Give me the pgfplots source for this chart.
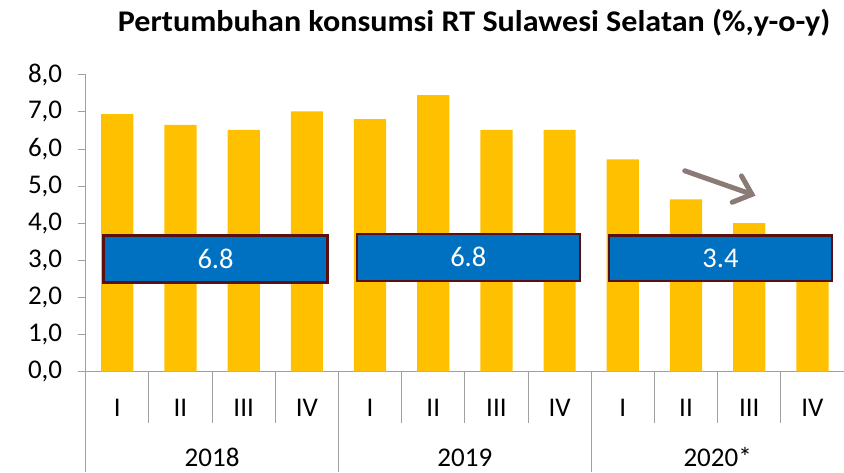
\documentclass[border=0pt]{standalone}
\usepackage{pgfplots}
\pgfplotsset{compat=1.18}
\usepackage{fontspec}
\setmainfont{Carlito}
\usetikzlibrary{arrows.meta}
\definecolor{barc}{HTML}{FFC000}
\definecolor{boxc}{HTML}{0070C0}
\definecolor{boxb}{HTML}{5A1010}
\definecolor{arrc}{HTML}{8B7B76}
\definecolor{axc}{HTML}{A0A0A0}
\begin{document}
\begin{tikzpicture}[x=1pt,y=1pt]
\path[use as bounding box] (0,0) rectangle (844,472);
\node[anchor=base,font=\fontsize{30}{34}\selectfont\bfseries] at (474,440) {\scalebox{1.07}[1]{Pertumbuhan konsumsi RT Sulawesi Selatan (\%,y-o-y)}};
\begin{axis}[
  at={(85.7pt,100.5pt)}, anchor=south west,
  width=758.3pt, height=296.8pt, scale only axis,
  xmin=-0.5, xmax=11.5, ymin=0, ymax=8,
  axis lines=left,
  axis line style={axc,-},
  xtick=\empty,
  ytick={0,1,...,8},
  tick align=outside,
  major tick length=8pt,
  tick style={axc, line width=0.8pt},
  yticklabel style={font=\fontsize{27}{30}\selectfont, xshift=-12pt},
  /pgf/number format/.cd, fixed, fixed zerofill, precision=1, use comma, assume math mode=true,
  /pgfplots/.cd,
  clip=false,
  ybar, bar width=32.2pt,
]
\addplot[fill=barc, draw=none] coordinates {
 (0,6.94) (1,6.65) (2,6.51) (3,7.01)
 (4,6.80) (5,7.45) (6,6.51) (7,6.51)
 (8,5.72) (9,4.64) (10,4.00) (11,3.00)};
% separators
\draw[axc, line width=0.8pt] (axis cs:-0.5,0) -- (axis cs:-0.5,-2.71);
\draw[axc, line width=0.8pt] (axis cs:3.5,0) -- (axis cs:3.5,-2.71);
\draw[axc, line width=0.8pt] (axis cs:7.5,0) -- (axis cs:7.5,-2.71);
\draw[axc, line width=0.8pt] (axis cs:0.5,0) -- (axis cs:0.5,-1.38);
\draw[axc, line width=0.8pt] (axis cs:1.5,0) -- (axis cs:1.5,-1.38);
\draw[axc, line width=0.8pt] (axis cs:2.5,0) -- (axis cs:2.5,-1.38);
\draw[axc, line width=0.8pt] (axis cs:4.5,0) -- (axis cs:4.5,-1.38);
\draw[axc, line width=0.8pt] (axis cs:5.5,0) -- (axis cs:5.5,-1.38);
\draw[axc, line width=0.8pt] (axis cs:6.5,0) -- (axis cs:6.5,-1.38);
\draw[axc, line width=0.8pt] (axis cs:8.5,0) -- (axis cs:8.5,-1.38);
\draw[axc, line width=0.8pt] (axis cs:9.5,0) -- (axis cs:9.5,-1.38);
\draw[axc, line width=0.8pt] (axis cs:10.5,0) -- (axis cs:10.5,-1.38);
% quarter labels
\begin{scope}[every node/.style={anchor=base, font=\fontsize{27}{30}\selectfont}]
\node at (axis cs:0,-1.22) {I};
\node at (axis cs:1,-1.22) {II};
\node at (axis cs:2,-1.22) {III};
\node at (axis cs:3,-1.22) {IV};
\node at (axis cs:4,-1.22) {I};
\node at (axis cs:5,-1.22) {II};
\node at (axis cs:6,-1.22) {III};
\node at (axis cs:7,-1.22) {IV};
\node at (axis cs:8,-1.22) {I};
\node at (axis cs:9,-1.22) {II};
\node at (axis cs:10,-1.22) {III};
\node at (axis cs:11,-1.22) {IV};
\node at (axis cs:1.5,-2.57) {2018};
\node at (axis cs:5.5,-2.57) {2019};
\node at (axis cs:9.5,-2.57) {2020*};
\end{scope}
% boxes
\draw[fill=boxc, draw=boxb, line width=2.5pt] (axis cs:-0.22,2.40) rectangle (axis cs:3.33,3.66);
\draw[fill=boxc, draw=boxb, line width=2.5pt] (axis cs:3.79,2.44) rectangle (axis cs:7.32,3.70);
\draw[fill=boxc, draw=boxb, line width=2.5pt] (axis cs:7.78,2.44) rectangle (axis cs:11.31,3.66);
\node[text=white, font=\fontsize{28.5}{32}\selectfont] at (axis cs:1.555,3.03) {6.8};
\node[text=white, font=\fontsize{28.5}{32}\selectfont] at (axis cs:5.555,3.08) {6.8};
\node[text=white, font=\fontsize{28.5}{32}\selectfont] at (axis cs:9.545,3.05) {3.4};
% arrow
\draw[arrc, line width=5pt, line cap=round, -{Straight Barb[length=16pt, width=28pt, line cap=round]}] (axis cs:8.98,5.41) -- (axis cs:10.1,4.74);
\end{axis}
\end{tikzpicture}
\end{document}
